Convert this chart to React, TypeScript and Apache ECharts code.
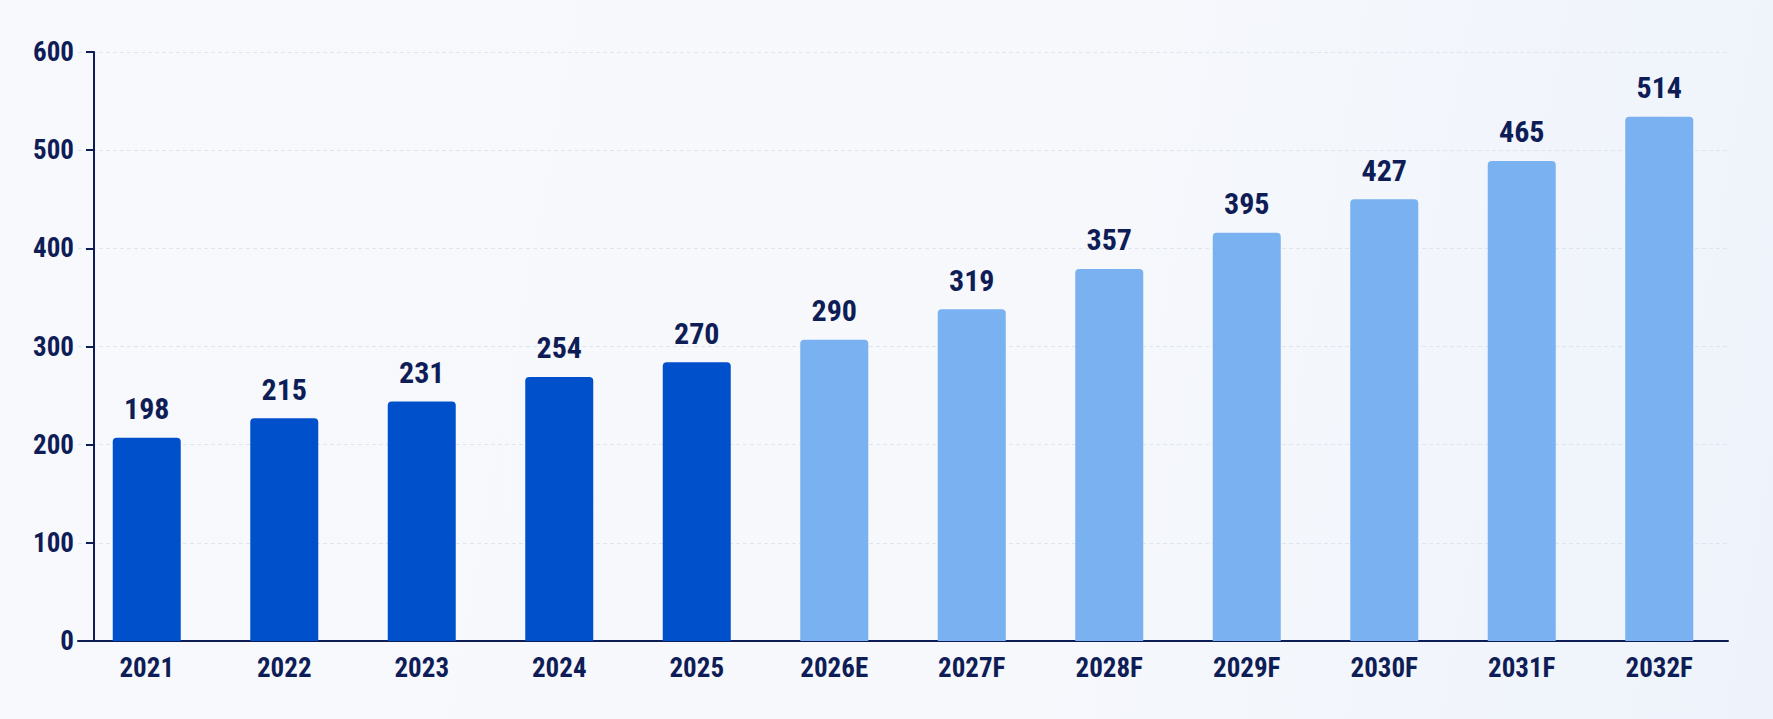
import React, { useEffect, useRef } from "react";
import * as echarts from "echarts";

const categories = ["2021", "2022", "2023", "2024", "2025", "2026E", "2027F", "2028F", "2029F", "2030F", "2031F", "2032F"];
// printed value labels
const labelValues = [198, 215, 231, 254, 270, 290, 319, 357, 395, 427, 465, 514];
// bar heights as drawn in the picture (read against the y axis)
const barValues = [207, 227, 244, 269, 284, 307, 338, 379, 416, 450, 489, 534];
// 0 = actual, 1 = estimate / forecast
const barKind = [0, 0, 0, 0, 0, 1, 1, 1, 1, 1, 1, 1];
const yTicks = [0, 100, 200, 300, 400, 500, 600];

const FONT = "'Roboto Condensed', 'DejaVu Sans Condensed', sans-serif";
const NAVY = "#0f1d57";
const DARK_BAR = "#0050cb";
const LIGHT_BAR = "#7ab1f1";

export default function App() {
  const ref = useRef<HTMLDivElement>(null);
  useEffect(() => {
    if (!ref.current) return;
    const chart = echarts.init(ref.current, undefined, { renderer: "svg" });
    chart.setOption({
      animation: false,
      grid: { left: 78, right: 45, top: 52, bottom: 78, containLabel: false },
      xAxis: {
        type: "category",
        data: categories,
        axisLine: { show: true, lineStyle: { color: NAVY, width: 2 } },
        axisTick: { show: false },
        axisLabel: { color: NAVY, fontFamily: FONT, fontWeight: "bold", fontSize: 27, margin: 13 },
      },
      yAxis: {
        type: "value",
        offset: -16,
        min: yTicks[0],
        max: yTicks[yTicks.length - 1],
        interval: 100,
        axisLine: { show: true, lineStyle: { color: NAVY, width: 2 } },
        axisTick: { show: true, length: 8, lineStyle: { color: NAVY, width: 2 } },
        axisLabel: { color: NAVY, fontFamily: FONT, fontWeight: "bold", fontSize: 27, margin: 20 },
        splitLine: { show: true, lineStyle: { color: "#dfe5ef", width: 1, type: [4, 3] } },
      },
      series: [
        {
          type: "bar",
          barWidth: 68,
          data: barValues.map((v, i) => ({
            value: v,
            itemStyle: { color: barKind[i] === 0 ? DARK_BAR : LIGHT_BAR, borderRadius: [4, 4, 0, 0] },
          })),
          label: {
            show: true,
            position: "top",
            distance: 14,
            formatter: (p: any) => String(labelValues[p.dataIndex]),
            color: NAVY,
            fontFamily: FONT,
            fontWeight: "bold",
            fontSize: 30,
          },
        },
      ],
    });
    return () => chart.dispose();
  }, []);
  return (
    <div
      ref={ref}
      style={{
        position: "fixed",
        left: 0,
        top: 0,
        width: 1773,
        height: 719,
        background: "linear-gradient(100deg, #f7f9fd 0%, #f6f8fc 60%, #eef3fb 100%)",
      }}
    />
  );
}
